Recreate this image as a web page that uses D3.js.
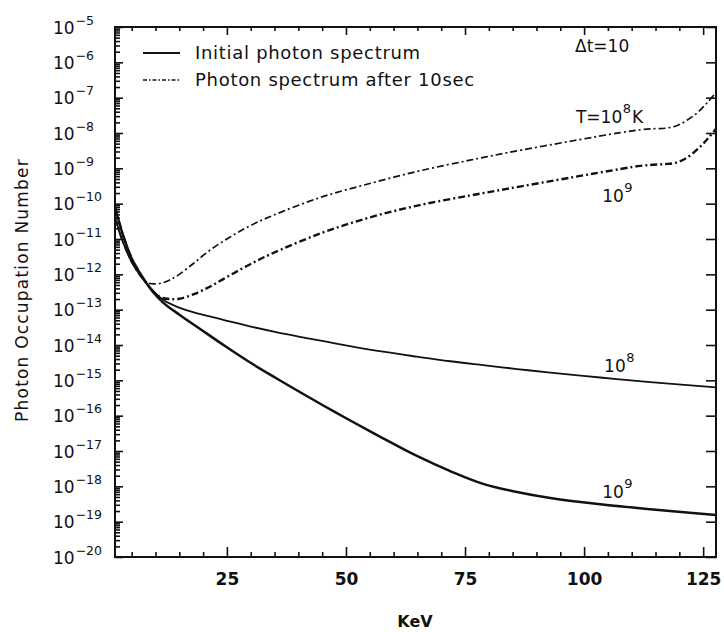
<!DOCTYPE html>
<html>
<head>
<meta charset="utf-8">
<script src="https://cdn.jsdelivr.net/npm/d3@7"></script>
<style>
  body { margin: 0; background: #fff; }
  text { font-family: "DejaVu Sans", sans-serif; fill: #111; }
</style>
</head>
<body>
<div id="chart"></div>
<script>
const solidKeV = [1.5, 3.2, 5.0, 6.9, 9.2, 11.6, 15.1, 19.3, 24.6, 29.8, 35.1, 40.3, 45.6,
  50.8, 57.8, 64.9, 71.9, 78.8, 85.9, 92.9, 103.4, 113.9, 127.7];
const dashKeV = [1.5, 3.2, 5.0, 6.9, 8.4, 9.9, 11.5, 13.0, 15.0, 17.9, 21.4, 25.6, 29.8, 34.0,
  44.5, 55.0, 65.5, 76.0, 83.8, 97.7, 107.6, 111.8, 114.5, 117.0, 119.3, 121.6, 123.9, 125.9, 127.7];

// log10 of photon occupation number
const initial1e8 = [-10.4, -11.1, -11.65, -12.05, -12.42, -12.72, -12.95, -13.12, -13.3, -13.47,
  -13.63, -13.77, -13.9, -14.03, -14.19, -14.33, -14.46, -14.57, -14.68, -14.78, -14.92, -15.05, -15.2];
const initial1e9 = [-10.1, -10.9, -11.55, -12.0, -12.45, -12.8, -13.15, -13.54, -14.03, -14.49,
  -14.92, -15.33, -15.74, -16.13, -16.64, -17.14, -17.57, -17.93, -18.16, -18.33, -18.51, -18.65, -18.81];
const after1e8 = [-10.4, -11.1, -11.65, -12.05, -12.24, -12.27, -12.24, -12.16, -12.0, -11.7,
  -11.32, -10.95, -10.63, -10.37, -9.83, -9.43, -9.07, -8.77, -8.56, -8.22, -7.99, -7.91, -7.88,
  -7.865, -7.8, -7.64, -7.41, -7.14, -6.85];
const after1e9 = [-10.1, -10.9, -11.55, -12.0, -12.3, -12.55, -12.67, -12.7, -12.69, -12.57,
  -12.35, -12.03, -11.72, -11.44, -10.85, -10.39, -10.04, -9.77, -9.58, -9.25, -9.02, -8.93, -8.9,
  -8.88, -8.84, -8.7, -8.45, -8.17, -7.88];

const xMajor = [25, 50, 75, 100, 125];
const decades = d3.range(-20, -4); // 10^-20 .. 10^-5

const margin = { top: 27, left: 115 };
const width = 601, height = 530;

const svg = d3.select("#chart").append("svg")
  .attr("width", 724)
  .attr("height", 632);

const g = svg.append("g")
  .attr("transform", `translate(${margin.left},${margin.top})`);

const x = d3.scaleLinear().domain([1.5, 127.7]).range([0, width]);
const y = d3.scaleLog().domain([1e-20, 1e-5]).range([height, 0]);

const xMinor = d3.range(5, 128, 5).filter(v => v % 25 !== 0);
const yMinor = [];
decades.slice(0, -1).forEach(k => {
  for (let m = 2; m <= 9; m++) yMinor.push(m * Math.pow(10, k));
});

function tickStyle(sel) {
  sel.select(".domain").remove();
  sel.selectAll(".tick line").attr("stroke", "#111").attr("stroke-width", 1.6);
}

// bottom
g.append("g").attr("transform", `translate(0,${height})`)
  .call(d3.axisBottom(x).tickValues(xMajor).tickSize(-10).tickPadding(16).tickFormat(d3.format("d")))
  .call(tickStyle)
  .call(a => a.selectAll("text")
    .style("font-family", "'DejaVu Sans', sans-serif")
    .style("font-size", "17px").style("font-weight", "bold").attr("fill", "#111"));
g.append("g").attr("transform", `translate(0,${height})`)
  .call(d3.axisBottom(x).tickValues(xMinor).tickSize(-5).tickFormat(""))
  .call(tickStyle);

// top
g.append("g")
  .call(d3.axisTop(x).tickValues(xMajor).tickSize(-8).tickFormat(""))
  .call(tickStyle);
g.append("g")
  .call(d3.axisTop(x).tickValues(xMinor).tickSize(-4).tickFormat(""))
  .call(tickStyle);

// left
const yAxis = g.append("g")
  .call(d3.axisLeft(y).tickValues(decades.map(k => Math.pow(10, k))).tickSize(-8).tickFormat(""))
  .call(tickStyle);
g.append("g")
  .call(d3.axisLeft(y).tickValues(yMinor).tickSize(-5).tickFormat(""))
  .call(tickStyle);

// right
g.append("g").attr("transform", `translate(${width},0)`)
  .call(d3.axisRight(y).tickValues(decades.map(k => Math.pow(10, k))).tickSize(-10).tickFormat(""))
  .call(tickStyle);

// power-of-ten labels
yAxis.selectAll(".tick").each(function(d) {
  const k = Math.round(Math.log10(d));
  const t = d3.select(this).append("text")
    .attr("x", -62)
    .attr("y", 6)
    .attr("text-anchor", "start")
    .style("font-size", "17px")
    .text("10");
  t.append("tspan")
    .attr("dx", 1)
    .attr("dy", -9)
    .style("font-size", "12.5px")
    .text("\u2212" + Math.abs(k));
});

// frame
g.append("rect")
  .attr("width", width)
  .attr("height", height)
  .attr("fill", "none")
  .attr("stroke", "#111")
  .attr("stroke-width", 2);

// curves
g.append("clipPath").attr("id", "clip")
  .append("rect").attr("width", width).attr("height", height);

const line = d3.line()
  .x(d => x(d[0]))
  .y(d => y(Math.pow(10, d[1])))
  .curve(d3.curveCatmullRom.alpha(0.5));

const curves = [
  { keV: solidKeV, vals: initial1e8, w: 1.8, dash: null },
  { keV: solidKeV, vals: initial1e9, w: 2.5, dash: null },
  { keV: dashKeV, vals: after1e8, w: 1.7, dash: "7,3,2,3" },
  { keV: dashKeV, vals: after1e9, w: 2.4, dash: "7,3,2,3" }
];

curves.forEach(c => {
  g.append("path")
    .datum(d3.zip(c.keV, c.vals))
    .attr("clip-path", "url(#clip)")
    .attr("fill", "none")
    .attr("stroke", "#111")
    .attr("stroke-width", c.w)
    .attr("stroke-dasharray", c.dash)
    .attr("d", line);
});

// curve labels
function powLabel(e, logv, base, sup, tail) {
  const t = g.append("text")
    .attr("x", x(e))
    .attr("y", y(Math.pow(10, logv)))
    .style("font-size", "17px")
    .text(base);
  t.append("tspan").attr("dx", 0.5).attr("dy", -10).style("font-size", "13px").text(sup);
  if (tail) t.append("tspan").attr("dx", 1).attr("dy", 10).style("font-size", "17px").text(tail);
}
powLabel(104.2, -14.77, "10", "8");
powLabel(103.8, -18.33, "10", "9");
powLabel(103.8, -9.95, "10", "9");
powLabel(98.3, -7.72, "T=10", "8", "K");

g.append("text")
  .attr("x", x(98.1))
  .attr("y", y(Math.pow(10, -5.71)))
  .style("font-size", "17px")
  .text("\u0394t=10");

// legend
const legend = svg.append("g");
const items = [
  { label: "Initial photon spectrum", dash: null, y: 53 },
  { label: "Photon spectrum after 10sec", dash: "4,2,1.5,2", y: 80 }
];
items.forEach(it => {
  legend.append("line")
    .attr("x1", 143).attr("x2", 180)
    .attr("y1", it.y).attr("y2", it.y)
    .attr("stroke", "#111")
    .attr("stroke-width", it.dash ? 1.5 : 2)
    .attr("stroke-dasharray", it.dash);
  legend.append("text")
    .attr("x", 195)
    .attr("y", it.y + 6)
    .style("font-size", "18px")
    .style("letter-spacing", "0.7px")
    .text(it.label);
});

// axis titles
svg.append("text")
  .attr("transform", "translate(28,290) rotate(-90)")
  .attr("text-anchor", "middle")
  .style("font-size", "17px")
  .style("letter-spacing", "1.2px")
  .text("Photon Occupation Number");

svg.append("text")
  .attr("x", 415)
  .attr("y", 627)
  .attr("text-anchor", "middle")
  .style("font-size", "16px")
  .style("font-weight", "bold")
  .text("KeV");
</script>
</body>
</html>
